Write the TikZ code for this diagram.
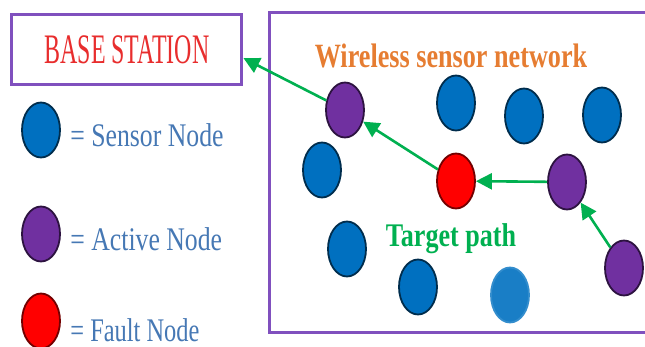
\documentclass[tikz,border=0pt]{standalone}
\usepackage{graphicx}
\usepackage{fontspec}
\setmainfont{Liberation Serif}
\usetikzlibrary{shapes.geometric,arrows.meta}

\definecolor{sensorblue}{RGB}{0,112,192}
\definecolor{activepurple}{RGB}{112,48,160}
\definecolor{faultred}{RGB}{255,0,0}
\definecolor{boxpurple}{RGB}{128,80,190}
\definecolor{pathgreen}{RGB}{0,176,80}
\definecolor{legendblue}{RGB}{70,120,180}
\definecolor{titleorange}{RGB}{230,125,50}
\definecolor{stationred}{RGB}{232,45,45}

\newcommand{\narrow}[2]{\scalebox{#1}[1]{#2}}

\begin{document}
\begin{tikzpicture}[x=0.5pt,y=-0.5pt,
        mote/.style={ellipse,minimum width=19pt,minimum height=27.5pt,
            inner sep=0pt,line width=0.9pt},
        sensor/.style={mote,fill=sensorblue,draw=sensorblue!40!black},
        active/.style={mote,fill=activepurple,draw=activepurple!40!black},
        fault/.style={mote,fill=faultred,draw=faultred!45!black},
        hop/.style={draw=pathgreen,line width=1.3pt,-{Triangle[length=8pt,width=8pt]}},
        legend/.style={anchor=base west,text=legendblue,inner sep=0pt,
            font=\fontsize{16.5}{19}\selectfont}]
\useasboundingbox (0,0) rectangle (645,347);
\clip (0,0) rectangle (645,347);

% base station and the network frame
\node[draw=boxpurple,line width=1.5pt,minimum width=115pt,minimum height=35pt,
    text=stationred,font=\fontsize{21}{24}\selectfont] (bs) at (127,50) {\narrow{0.57}{BASE STATION}};
\draw[boxpurple,line width=1.5pt] (660,13) -- (270,13) -- (270,333) -- (660,333);

% legend
\node[sensor] (keysensor) at (41,130) {};
\node[legend] (keysensortext) at (70,147) {\narrow{0.78}{= Sensor Node}};
\node[active] (keyactive) at (41,234) {};
\node[legend] (keyactivetext) at (70,251) {\narrow{0.78}{= Active Node}};
\node[fault] (keyfault) at (41,321) {};
\node[legend] (keyfaulttext) at (70,342) {\narrow{0.74}{= Fault Node}};

\node[anchor=base,text=titleorange,font=\bfseries\fontsize{17}{20}\selectfont] (wsn) at (451,68) {\narrow{0.77}{Wireless sensor network}};
\node[anchor=base,text=pathgreen,font=\bfseries\fontsize{16.5}{20}\selectfont] (target) at (451,247) {\narrow{0.79}{Target path}};

% motes
\node[active] (p1) at (345,110) {};
\node[sensor] (s1) at (456,103) {};
\node[sensor] (s2) at (524,116) {};
\node[sensor] (s3) at (602,115) {};
\node[sensor] (s4) at (322,170) {};
\node[fault]  (f1) at (456,181) {};
\node[active] (p2) at (567,182) {};
\node[active] (p3) at (624,268) {};
\node[sensor] (s5) at (347,249) {};
\node[sensor] (s6) at (418,287) {};
\node[sensor,fill=sensorblue!90!white,draw=sensorblue!80!white] (s7) at (510,295) {};

\draw[hop] (p3) -- (p2);
\draw[hop] (p2) -- (f1);
\draw[hop] (f1) -- (p1);
\draw[hop] (p1) -- (bs.-4);

\end{tikzpicture}
\end{document}
